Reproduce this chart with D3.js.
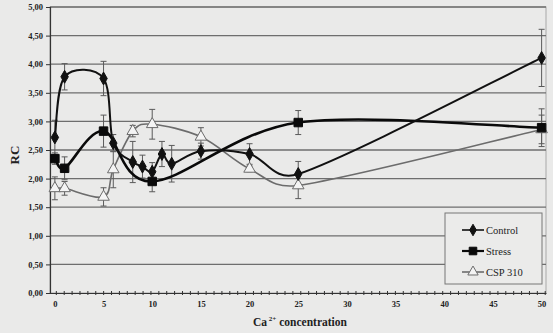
<!DOCTYPE html>
<html><head><meta charset="utf-8">
<script src="https://cdn.jsdelivr.net/npm/d3@7"></script>
<style>
html,body{margin:0;padding:0;background:#eaeae9;}
svg{display:block;}
text{font-family:"Liberation Serif","Times New Roman",serif;font-weight:bold;fill:#222;}
</style></head><body>
<svg id="chart" width="553" height="333"></svg>
<script>
// ---- data ----
const controlX = [0, 1, 5, 6, 8, 9, 10, 11, 12, 15, 20, 25, 50];
const controlY = [2.72, 3.78, 3.75, 2.62, 2.29, 2.21, 2.12, 2.43, 2.26, 2.48, 2.43, 2.08, 4.11];
const controlErr = [0.30, 0.23, 0.30, 0.15, 0.36, 0.20, 0.16, 0.22, 0.32, 0.14, 0.18, 0.22, 0.50];

const stressX = [0, 1, 5, 10, 25, 50];
const stressY = [2.35, 2.18, 2.83, 1.95, 2.98, 2.89];
const stressErr = [0.10, 0.20, 0.28, 0.18, 0.21, 0.33];

const cspX = [0, 1, 5, 6, 8, 10, 15, 20, 25, 50];
const cspY = [1.83, 1.83, 1.68, 2.16, 2.83, 2.95, 2.73, 2.17, 1.88, 2.86];
const cspErr = [0.20, 0.12, 0.16, 0.32, 0.10, 0.26, 0.16, 0.05, 0.23, 0.25];

const xTicks = [0, 5, 10, 15, 20, 25, 30, 35, 40, 45, 50];
const yTicks = [0, 0.5, 1, 1.5, 2, 2.5, 3, 3.5, 4, 4.5, 5];
const seriesNames = ["Control", "Stress", "CSP 310"];
const xTitle = "concentration";
const yTitle = "RC";

// ---- layout ----
const svg = d3.select("#chart");
const pLeft = 50, pRight = 546, pTop = 7, pBottom = 293;
const x = d3.scaleLinear().domain([-0.5, 50.45]).range([pLeft, pRight]);
const y = d3.scaleLinear().domain([0, 5]).range([pBottom, pTop]);
const fmt = d => d.toFixed(2).replace(".", ",");

// plot frame (light)
svg.append("rect").attr("x", pLeft).attr("y", pTop).attr("width", pRight - pLeft).attr("height", pBottom - pTop)
  .attr("fill", "none").attr("stroke", "#a8a8a8").attr("stroke-width", 1);

// gridlines
svg.append("g").selectAll("line").data(yTicks.filter(d => d > 0)).join("line")
  .attr("x1", pLeft).attr("x2", pRight).attr("y1", d => y(d)).attr("y2", d => y(d))
  .attr("stroke", "#6e6e6e").attr("stroke-width", 1.3);

// y axis
const yAxis = d3.axisLeft(y).tickValues(yTicks).tickFormat(fmt).tickSize(4).tickPadding(3);
const gy = svg.append("g").attr("transform", `translate(${pLeft},0)`).call(yAxis);
gy.select(".domain").attr("stroke", "#333").attr("stroke-width", 1.2);
gy.selectAll(".tick line").attr("stroke", "#333");
gy.selectAll(".tick text").style("font-size", "8.5px").style("font-family", "Liberation Serif").style("font-weight", "bold").attr("fill", "#222");

// x axis
const xAxis = d3.axisBottom(x).tickValues(xTicks).tickSize(0).tickPadding(8);
const gx = svg.append("g").attr("transform", `translate(0,${pBottom})`).call(xAxis);
gx.select(".domain").attr("stroke", "#333").attr("stroke-width", 1.2);
gx.selectAll(".tick text").style("font-size", "8.5px").style("font-family", "Liberation Serif").style("font-weight", "bold").attr("fill", "#222");
// minor ticks
const minor = d3.range(0.15, 50.5, 0.81);
svg.append("g").selectAll("line").data(minor).join("line")
  .attr("x1", d => x(d)).attr("x2", d => x(d)).attr("y1", pBottom - 2).attr("y2", pBottom + 2)
  .attr("stroke", "#333").attr("stroke-width", 1);

// axis titles
svg.append("text").attr("transform", `translate(19,${155}) rotate(-90)`)
  .attr("text-anchor", "middle").style("font-size", "13px").text(yTitle);
const xt = svg.append("text").attr("x", 300).attr("y", 326).attr("text-anchor", "middle").style("font-size", "11.5px");
xt.append("tspan").text("Ca");
xt.append("tspan").attr("dy", -5).style("font-size", "7px").text(" 2+");
xt.append("tspan").attr("dy", 5).text(" " + xTitle);

// series
const series = [
  {name: seriesNames[0], xs: controlX, ys: controlY, es: controlErr, color: "#111", width: 2, sym: d3.symbolDiamond, size: 48, fill: "#111"},
  {name: seriesNames[1], xs: stressX, ys: stressY, es: stressErr, color: "#0a0a0a", width: 2.6, sym: d3.symbolSquare, size: 72, fill: "#0a0a0a"},
  {name: seriesNames[2], xs: cspX, ys: cspY, es: cspErr, color: "#6c6c6c", width: 1.6, sym: d3.symbolTriangle, size: 58, fill: "#f4f4f4"}
];

// Excel-like smoothed line (Bezier with capped tangents)
function smoothPath(pts) {
  const P = pts.map(d => [x(d[0]), y(d[1])]);
  const p = d3.path();
  const dist = (a, b) => Math.hypot(b[0] - a[0], b[1] - a[1]);
  p.moveTo(P[0][0], P[0][1]);
  for (let i = 0; i < P.length - 1; i++) {
    const p0 = P[Math.max(0, i - 1)], p1 = P[i], p2 = P[i + 1], p3 = P[Math.min(P.length - 1, i + 2)];
    const d12 = dist(p1, p2), d02 = dist(p0, p2), d13 = dist(p1, p3);
    const f = d02 > 0 ? Math.min(1 / 6, d12 / (2 * d02)) : 0;
    const g = d13 > 0 ? Math.min(1 / 6, d12 / (2 * d13)) : 0;
    const c1 = [p1[0] + (p2[0] - p0[0]) * f, p1[1] + (p2[1] - p0[1]) * f];
    const c2 = [p2[0] - (p3[0] - p1[0]) * g, p2[1] - (p3[1] - p1[1]) * g];
    p.bezierCurveTo(c1[0], c1[1], c2[0], c2[1], p2[0], p2[1]);
  }
  return p.toString();
}

// error bars
series.forEach(s => {
  const pts = s.xs.map((v, i) => [v, s.ys[i], s.es[i]]);
  const g = svg.append("g").attr("stroke", "#5a5a5a").attr("stroke-width", 1);
  pts.forEach(p => {
    g.append("line").attr("x1", x(p[0])).attr("x2", x(p[0])).attr("y1", y(p[1] - p[2])).attr("y2", y(p[1] + p[2]));
    [p[1] - p[2], p[1] + p[2]].forEach(v => g.append("line").attr("x1", x(p[0]) - 3).attr("x2", x(p[0]) + 3).attr("y1", y(v)).attr("y2", y(v)));
  });
});

// lines
series.slice().reverse().forEach(s => {
  const pts = s.xs.map((v, i) => [v, s.ys[i]]);
  svg.append("path").attr("d", smoothPath(pts)).attr("fill", "none").attr("stroke", s.color).attr("stroke-width", s.width);
});
// markers
series.slice().reverse().forEach(s => {
  const pts = s.xs.map((v, i) => [v, s.ys[i]]);
  svg.append("g").selectAll("path").data(pts).join("path")
    .attr("transform", d => `translate(${x(d[0])},${y(d[1])})`)
    .attr("d", d3.symbol().type(s.sym).size(s.size))
    .attr("fill", s.fill).attr("stroke", s.color).attr("stroke-width", 1);
});

// legend
const lg = svg.append("g");
lg.append("rect").attr("x", 445).attr("y", 213).attr("width", 97).attr("height", 71)
  .attr("fill", "#ebebea").attr("stroke", "#777").attr("stroke-width", 1);
series.forEach((s, i) => {
  const ly = 230 + i * 21;
  lg.append("line").attr("x1", 462).attr("x2", 484).attr("y1", ly).attr("y2", ly).attr("stroke", s.color).attr("stroke-width", s.width > 2 ? 2.2 : 1.6);
  lg.append("path").attr("transform", `translate(473,${ly})`).attr("d", d3.symbol().type(s.sym).size(s.size * 0.8))
    .attr("fill", s.fill).attr("stroke", s.color).attr("stroke-width", 1);
  lg.append("text").attr("x", 486).attr("y", ly + 3.5).style("font-size", "10.5px").style("font-weight", "normal").text(s.name);
});
</script>
</body></html>
